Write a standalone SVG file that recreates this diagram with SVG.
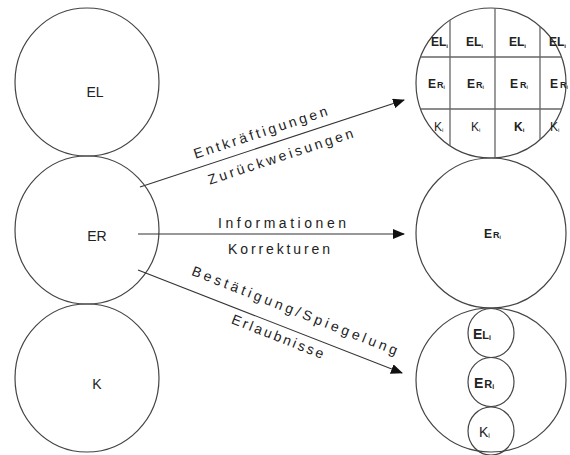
<svg xmlns="http://www.w3.org/2000/svg" width="570" height="455" viewBox="0 0 570 455">
<defs>
<style>
.c{fill:none;stroke:#444;stroke-width:1.2}
.t{font-family:"Liberation Sans",Arial,sans-serif;fill:#222}
.g{stroke:#666;stroke-width:1.3}
.e{stroke:#333;stroke-width:1.1;fill:none}
</style>
<marker id="ah" markerWidth="12" markerHeight="10" refX="11" refY="5" orient="auto" markerUnits="userSpaceOnUse">
<path d="M0,0 L12,5 L0,10 Z" fill="#111"/>
</marker>
<clipPath id="cp"><ellipse cx="491" cy="83" rx="75" ry="75"/></clipPath>
</defs>
<rect width="570" height="455" fill="#fff"/>
<g id="EL"><ellipse class="c" cx="87" cy="82" rx="72" ry="74"/><text class="t" x="95" y="97" font-size="14" text-anchor="middle">EL</text></g>
<g id="ER"><ellipse class="c" cx="87" cy="230" rx="72" ry="74"/><text class="t" x="97" y="241" font-size="14" text-anchor="middle">ER</text></g>
<g id="K"><ellipse class="c" cx="87" cy="378" rx="72" ry="74"/><text class="t" x="97" y="389" font-size="14" text-anchor="middle">K</text></g>
<g id="grid">
<ellipse class="c" cx="491" cy="83" rx="75" ry="75"/>
<g clip-path="url(#cp)">
<line class="g" x1="450" y1="0" x2="450" y2="160"/>
<line class="g" x1="495" y1="0" x2="495" y2="160" stroke-width="2"/>
<line class="g" x1="540" y1="0" x2="540" y2="160"/>
<line class="g" x1="400" y1="57" x2="570" y2="57"/>
<line class="g" x1="400" y1="109" x2="570" y2="109"/>
</g>
<g class="t" font-size="12" font-weight="bold">
<text x="431" y="46">EL<tspan font-size="6" dy="2">i</tspan></text>
<text x="466" y="46">EL<tspan font-size="6" dy="2">i</tspan></text>
<text x="509" y="46">EL<tspan font-size="6" dy="2">i</tspan></text>
<text x="549" y="46">EL<tspan font-size="6" dy="2">i</tspan></text>
<text x="428" y="88">E<tspan font-size="9" dx="1">R</tspan><tspan font-size="5" dy="1">i</tspan></text>
<text x="467" y="88">E<tspan font-size="9" dx="1">R</tspan><tspan font-size="5" dy="1">i</tspan></text>
<text x="510" y="88">E<tspan font-size="9" dx="2">R</tspan><tspan font-size="5" dy="1">i</tspan></text>
<text x="550" y="88">E<tspan font-size="9" dx="2">R</tspan><tspan font-size="5" dy="1">i</tspan></text>
<text x="434" y="131" font-weight="normal">K<tspan font-size="6" dy="1">i</tspan></text>
<text x="471" y="131" font-weight="normal">K<tspan font-size="6" dy="1">i</tspan></text>
<text x="514" y="131">K<tspan font-size="6" dy="1">i</tspan></text>
<text x="550" y="131" font-weight="normal">K<tspan font-size="6" dy="1">i</tspan></text>
</g>
</g>
<g id="ERi"><ellipse class="c" cx="491" cy="233" rx="75" ry="75"/><text class="t" x="484" y="238" font-size="12" font-weight="bold">E<tspan font-size="9" dx="1">R</tspan><tspan font-size="5" dy="1">i</tspan></text></g>
<g id="stack">
<ellipse class="c" cx="491" cy="380" rx="75" ry="72"/>
<ellipse class="c" cx="491" cy="333" rx="23" ry="24.5"/>
<ellipse class="c" cx="491" cy="382" rx="23" ry="24.5"/>
<ellipse class="c" cx="491" cy="431" rx="23" ry="24"/>
<g class="t" font-size="14" font-weight="bold">
<text x="473" y="339">E<tspan font-size="11">L</tspan><tspan font-size="7" dy="1">i</tspan></text>
<text x="474" y="388">E<tspan font-size="11" dx="1">R</tspan><tspan font-size="7" dy="1">i</tspan></text>
<text x="479" y="437" font-weight="normal">K<tspan font-size="7" dy="1">i</tspan></text>
</g>
</g>
<g id="connectors">
<line class="e" x1="140" y1="187" x2="404" y2="100" marker-end="url(#ah)"/>
<line class="e" x1="138" y1="234" x2="404" y2="234" marker-end="url(#ah)"/>
<line class="e" x1="138" y1="270" x2="402" y2="373" marker-end="url(#ah)"/>
</g>
<g class="t" font-size="14">
<text x="262" y="137" text-anchor="middle" transform="rotate(-18.2 262 137)" textLength="140" lengthAdjust="spacing">Entkräftigungen</text>
<text x="282" y="161" text-anchor="middle" transform="rotate(-18.2 282 161)" textLength="152" lengthAdjust="spacing">Zurückweisungen</text>
<text x="282" y="228" text-anchor="middle" textLength="128" lengthAdjust="spacing">Informationen</text>
<text x="279" y="254" text-anchor="middle" textLength="102" lengthAdjust="spacing">Korrekturen</text>
<text x="293" y="315" text-anchor="middle" transform="rotate(21.5 293 315)" textLength="220" lengthAdjust="spacing">Bestätigung/Spiegelung</text>
<text x="276" y="341" text-anchor="middle" transform="rotate(21.5 276 341)" textLength="98" lengthAdjust="spacing">Erlaubnisse</text>
</g>
</svg>
